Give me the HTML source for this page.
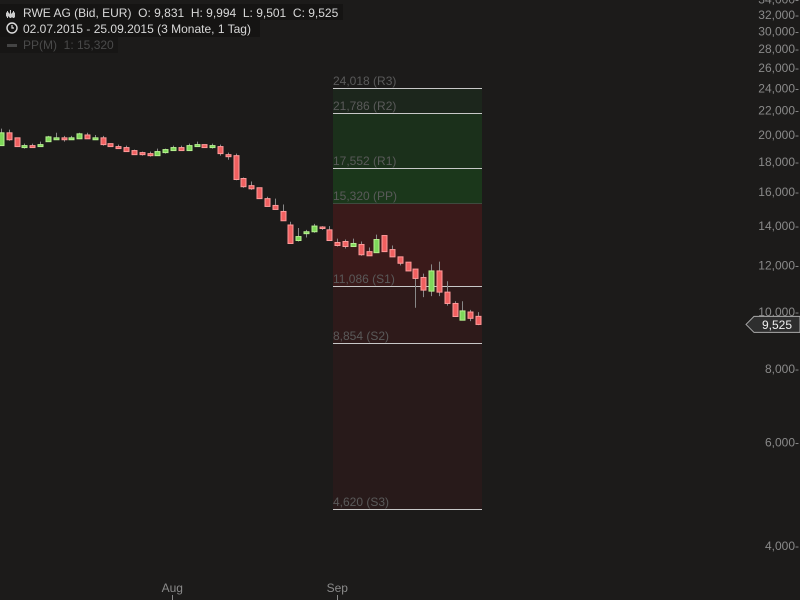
<!DOCTYPE html>
<html><head><meta charset="utf-8"><style>
body{margin:0;background:#1c1b1a;width:800px;height:600px;overflow:hidden;font-family:"Liberation Sans",sans-serif}
svg{display:block}
text{white-space:pre}
</style></head><body>
<svg id="chart" width="800" height="600" xmlns="http://www.w3.org/2000/svg">
<rect width="800" height="600" fill="#1c1b1a"/>
<g id="zones"></g><g id="candles"></g><g id="yaxis"></g><g id="xaxis"></g>
<g font-size="12">
<rect x="0" y="4" width="343" height="16" fill="#151413"/>
<rect x="0" y="20" width="260" height="17" fill="#151413"/>
<rect x="0" y="37" width="118" height="16" fill="#171615"/>
<g stroke="#ccc" stroke-width="1">
<line x1="7.5" y1="11" x2="7.5" y2="18"/><line x1="10.5" y1="10" x2="10.5" y2="18"/><line x1="13.5" y1="11" x2="13.5" y2="18"/>
<rect x="6.5" y="13" width="2" height="3" fill="#ccc"/><rect x="9.5" y="14" width="2" height="3" fill="#ccc"/><rect x="12.5" y="13" width="2" height="4" fill="#ccc"/>
</g>
<text x="23" y="17" fill="#d8d8d8">RWE AG (Bid, EUR)  O: 9,831  H: 9,994  L: 9,501  C: 9,525</text>
<circle cx="12" cy="28" r="5" fill="none" stroke="#ddd" stroke-width="1.4"/>
<path d="M12 25v3h2" stroke="#ddd" fill="none" stroke-width="1.2"/>
<text x="23" y="33" fill="#d8d8d8">02.07.2015 - 25.09.2015 (3 Monate, 1 Tag)</text>
<rect x="7" y="44" width="10" height="3" fill="#444"/>
<text x="23" y="49" fill="#4a4a4a">PP(M)  1: 15,320</text>
</g>
</svg>
<script>
const opens=[19185,20170,19778,19037,19185,19111,19482,19630,19778,19630,19704,20000,19630,19778,19333,19111,19037,18815,18667,18593,18444,18667,18815,19037,18815,19111,19260,19037,19111,18518,18444,16866,16400,16267,15588,15177,14824,14059,13230,13590,13692,13949,13795,13128,13179,12923,13026,12667,12615,13490,12769,12410,12154,11830,11447,10851,11745,10809,10340,9685,10000,9831];
const highs=[20500,20420,19778,19333,19333,19482,19926,20170,19926,19926,20170,20170,20000,19926,19333,19260,19185,18889,18741,18741,18963,18963,19185,19185,19333,19482,19260,19333,19260,18667,18593,16930,16670,16267,15700,15588,15235,14240,13897,13795,14120,14000,14000,13330,13282,13330,13179,12870,13540,13490,12974,12410,12154,11830,11620,12050,12180,11280,10430,10430,10085,9994];
const lows=[19185,19556,19111,18963,19037,19111,19482,19630,19482,19630,19704,19704,19630,19185,19111,18963,18741,18518,18444,18370,18444,18593,18815,18815,18815,19111,19037,18963,18444,18150,16750,16267,16130,15588,15118,14941,14294,13077,13179,13385,13641,13795,13230,12923,12820,12923,12462,12462,12615,12667,12410,12000,11745,10170,10600,10640,10640,10255,9825,9685,9650,9501];
const closes=[20170,19630,19111,19185,19037,19260,19852,19778,19630,19778,20090,19704,19778,19260,19111,18963,18741,18518,18518,18444,18741,18889,19037,18815,19185,19260,19037,19185,18593,18370,16800,16333,16200,15588,15118,14941,14294,13077,13436,13692,14000,13897,13230,12974,12923,13077,12513,12462,13282,12667,12410,12103,11745,11404,10894,11745,10809,10340,9825,10043,9755,9525];
const yTicks=[4000,6000,8000,10000,12000,14000,16000,18000,20000,22000,24000,26000,28000,30000,32000,34000];
const pivotNames=["R3","R2","R1","PP","S1","S2","S3"];
const pivotValues=[24018,21786,17552,15320,11086,8854,4620];
const monthLabels=["Jul","Aug","Sep"];
const monthIndex=[-1.3,21.9,43];

const NS="http://www.w3.org/2000/svg";
function y(p){return 312-255.4*Math.log(p/10000);}
function x(i){return 1+i*7.82;}
function fmt(v){return v.toLocaleString('en-US');}
function mk(tag,attrs,parent){const e=document.createElementNS(NS,tag);for(const k in attrs)e.setAttribute(k,attrs[k]);parent.appendChild(e);return e;}

const zg=document.getElementById('zones');
const zoneFill=["#1c261c","#1b301b","#1b371b","#3a1a1a","#2e1a1a","#281a1a"];
for(let k=0;k<pivotValues.length-1;k++){
  const y0=Math.round(y(pivotValues[k]))+1,y1=Math.round(y(pivotValues[k+1]))+1;
  const r=mk('rect',{x:333,y:y0,width:149,height:y1-y0,fill:zoneFill[k]},zg);
  
  
}
for(let k=0;k<pivotValues.length;k++){
  const yy=Math.round(y(pivotValues[k]))+0.5;
  const l=mk('line',{x1:333,x2:482,y1:yy,y2:yy,stroke:pivotNames[k]==="PP"?"#3e4a3e":"#c8c8c8","stroke-width":1},zg);
  
  
  const t=mk('text',{x:333,y:yy-3.5,fill:"#5a5a5a","font-size":12},zg);
  t.textContent=fmt(pivotValues[k])+" ("+pivotNames[k]+")";
  
  
}
const cg=document.getElementById('candles');
for(let i=0;i<opens.length;i++){
  const up=closes[i]>=opens[i];
  const cx=Math.round(x(i))+0.5;
  const w=mk('line',{x1:cx,x2:cx,y1:y(highs[i]),y2:y(lows[i]),stroke:"#888","stroke-width":1},cg);
  
  
  const top=y(Math.max(opens[i],closes[i])),bot=y(Math.min(opens[i],closes[i]));
  const b=mk('rect',{x:cx-2.5,y:top,width:5,height:Math.max(bot-top,1.5),fill:up?"#7ed85a":"#f06060",stroke:up?"#b6f090":"#ff9a9a","stroke-width":1},cg);
  
  
}
const yg=document.getElementById('yaxis');
yTicks.forEach(v=>{
  const t=mk('text',{x:799,y:y(v)+4,fill:"#8a8a8a","font-size":12,"text-anchor":"end"},yg);
  t.textContent=fmt(v)+"-";
  
  
});
const last=closes[closes.length-1],ly=y(last);
const tag=mk('path',{d:`M746 ${ly} L754 ${ly-8} H800 V${ly+8} H754 Z`,fill:"#2e2e2e",stroke:"#aaa","stroke-width":1},yg);


const lt=mk('text',{x:777,y:ly+4.5,fill:"#eee","font-size":12,"text-anchor":"middle"},yg);
lt.textContent=fmt(last);


const xg=document.getElementById('xaxis');
monthLabels.forEach((m,k)=>{
  const xx=x(monthIndex[k]);
  const t=mk('text',{x:xx,y:592,fill:"#8a8a8a","font-size":12,"text-anchor":"middle"},xg);
  t.textContent=m;
  
  
  mk('line',{x1:Math.round(xx)+0.5,x2:Math.round(xx)+0.5,y1:595,y2:600,stroke:"#8a8a8a"},xg);
});
</script>
</body></html>
